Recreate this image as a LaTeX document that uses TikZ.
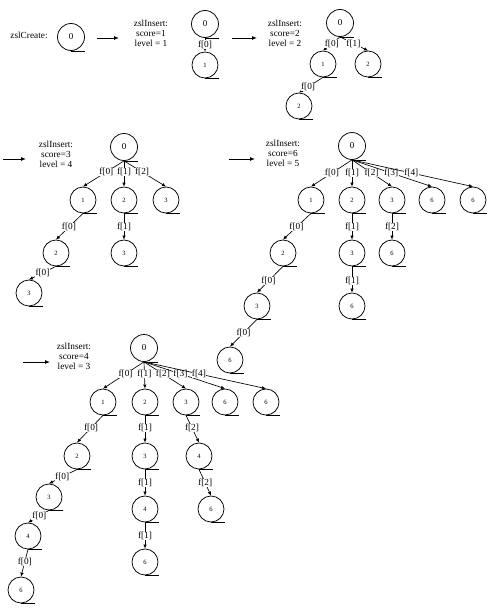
\documentclass[tikz,border=0pt]{standalone}
\usepackage{fontspec}
\setmainfont{Liberation Serif}
\usetikzlibrary{arrows.meta}
\tikzset{
  nd/.style={circle, draw, line width=0.75pt, minimum size=26pt, inner sep=0pt,
    font=\fontsize{6.5}{6.5}\selectfont,
    append after command={(\tikzlastnode.south) edge[draw, line width=0.75pt] ++(14pt,0pt)}},
  rt/.style={nd, minimum size=27pt, font=\fontsize{9}{9}\selectfont},
  lnk/.style={draw, line width=0.65pt, -{Latex[length=4pt,width=3.5pt]}},
  lbl/.style={fill=white, inner sep=0.4pt, font=\fontsize{9.3}{9.3}\selectfont},
  bigarr/.style={draw, line width=0.9pt, -{Latex[length=5pt,width=4pt]}},
  info/.style={align=center, inner sep=0pt, font=\fontsize{9.3}{10}\selectfont}
}
\begin{document}
\begin{tikzpicture}[x=1pt,y=-1pt]
\useasboundingbox (0,0) rectangle (491,613);

% ---- zslCreate ----
\node[info] (tc) at (29,35) {zslCreate:};
\node[rt] (c0) at (71,37) {0};
\coordinate (a1s) at (97,38); \coordinate (a1e) at (119,38);
\draw[bigarr] (a1s) -- (a1e);

% ---- tree 1 ----
\node[info] (t1) at (151,33) {zslInsert:\\score=1\\level = 1};
\node[rt] (p0) at (205,24) {0};
\node[nd] (p1) at (205,65) {1};
\draw[lnk] (p0.south) -- node[lbl,pos=0.5] {f[0]} (p1.north);
\coordinate (a2s) at (232,38); \coordinate (a2e) at (257,38);
\draw[bigarr] (a2s) -- (a2e);

% ---- tree 2 ----
\node[info] (t2) at (285,33) {zslInsert:\\score=2\\level = 2};
\node[rt] (q0) at (340,23) {0};
\node[nd] (q1) at (323,64) {1};
\node[nd] (q2) at (368,64) {2};
\node[nd] (q3) at (299,106) {2};
\draw[lnk] (q0.south) -- node[lbl,pos=0.48] {f[0]} (q1.north);
\draw[lnk] (q0.south) -- node[lbl,pos=0.48] {f[1]} (q2.north);
\draw[lnk] (q1.south) -- node[lbl,pos=0.62] {f[0]} (q3.north);

% ---- tree 3 ----
\coordinate (a3s) at (3,159); \coordinate (a3e) at (26,159);
\draw[bigarr] (a3s) -- (a3e);
\node[info] (t3) at (56,154) {zslInsert:\\score=3\\level = 4};
\node[rt] (r0) at (124,147) {0};
\node[nd] (r1) at (83,200) {1};
\node[nd] (r2) at (124,200) {2};
\node[nd] (r3) at (166,200) {3};
\node[nd] (r4) at (56,253) {2};
\node[nd] (r5) at (124,253) {3};
\node[nd] (r6) at (29,293) {3};
\draw[lnk] (r0.south) -- node[lbl,pos=0.43] {f[0]} (r1.north);
\draw[lnk] (r0.south) -- node[lbl,pos=0.43] {f[1]} (r2.north);
\draw[lnk] (r0.south) -- node[lbl,pos=0.43] {f[2]} (r3.north);
\draw[lnk] (r1.south) -- node[lbl,pos=0.52] {f[0]} (r4.north);
\draw[lnk] (r2.south) -- node[lbl,pos=0.52] {f[1]} (r5.north);
\draw[lnk] (r4.south) -- node[lbl,pos=0.5] {f[0]} (r6.north);

% ---- tree 4 ----
\coordinate (a4s) at (229,159); \coordinate (a4e) at (255,159);
\draw[bigarr] (a4s) -- (a4e);
\node[info] (t4) at (283,153) {zslInsert:\\score=6\\level = 5};
\node[rt] (s0) at (352,146) {0};
\node[nd] (s1) at (311,200) {1};
\node[nd] (s2) at (352,200) {2};
\node[nd] (s3) at (392,200) {3};
\node[nd] (s4) at (432,200) {6};
\node[nd] (s5) at (473,200) {6};
\node[nd] (s6) at (283,253) {2};
\node[nd] (s7) at (352,253) {3};
\node[nd] (s8) at (392,253) {6};
\node[nd] (s9) at (257,306) {3};
\node[nd] (s10) at (352,306) {6};
\node[nd] (s11) at (230,360) {6};
\draw[lnk] (s0.south) -- node[lbl,pos=0.49] {f[0]} (s1.north);
\draw[lnk] (s0.south) -- node[lbl,pos=0.49] {f[1]} (s2.north);
\draw[lnk] (s0.south) -- node[lbl,pos=0.49] {f[2]} (s3.north);
\draw[lnk] (s0.south) -- node[lbl,pos=0.49] {f[3]} (s4.north);
\draw[lnk] (s0.south) -- node[lbl,pos=0.49] {f[4]} (s5.north);
\draw[lnk] (s1.south) -- node[lbl,pos=0.52] {f[0]} (s6.north);
\draw[lnk] (s2.south) -- node[lbl,pos=0.52] {f[1]} (s7.north);
\draw[lnk] (s3.south) -- node[lbl,pos=0.52] {f[2]} (s8.north);
\draw[lnk] (s6.south) -- node[lbl,pos=0.56] {f[0]} (s9.north);
\draw[lnk] (s7.south) -- node[lbl,pos=0.56] {f[1]} (s10.north);
\draw[lnk] (s9.south) -- node[lbl,pos=0.5] {f[0]} (s11.north);

% ---- tree 5 ----
\coordinate (a5s) at (23,362); \coordinate (a5e) at (50,362);
\draw[bigarr] (a5s) -- (a5e);
\node[info] (t5) at (74,356) {zslInsert:\\score=4\\level = 3};
\node[rt] (u0) at (144,348) {0};
\node[nd] (u1) at (103,402) {1};
\node[nd] (u2) at (145,402) {2};
\node[nd] (u3) at (186,402) {3};
\node[nd] (u4) at (225,402) {6};
\node[nd] (u5) at (266,402) {6};
\node[nd] (u6) at (77,456) {2};
\node[nd] (u7) at (145,456) {3};
\node[nd] (u8) at (199,456) {4};
\node[nd] (u9) at (49,497) {3};
\node[nd] (u10) at (145,509) {4};
\node[nd] (u11) at (211,509) {6};
\node[nd] (u12) at (28,536) {4};
\node[nd] (u13) at (145,562) {6};
\node[nd] (u14) at (21,590) {6};
\draw[lnk] (u0.south) -- node[lbl,pos=0.45] {f[0]} (u1.north);
\draw[lnk] (u0.south) -- node[lbl,pos=0.45] {f[1]} (u2.north);
\draw[lnk] (u0.south) -- node[lbl,pos=0.45] {f[2]} (u3.north);
\draw[lnk] (u0.south) -- node[lbl,pos=0.45] {f[3]} (u4.north);
\draw[lnk] (u0.south) -- node[lbl,pos=0.45] {f[4]} (u5.north);
\draw[lnk] (u1.south) -- node[lbl,pos=0.46] {f[0]} (u6.north);
\draw[lnk] (u2.south) -- node[lbl,pos=0.46] {f[1]} (u7.north);
\draw[lnk] (u3.south) -- node[lbl,pos=0.46] {f[2]} (u8.north);
\draw[lnk] (u6.south) -- node[lbl,pos=0.53] {f[0]} (u9.north);
\draw[lnk] (u7.south) -- node[lbl,pos=0.52] {f[1]} (u10.north);
\draw[lnk] (u8.south) -- node[lbl,pos=0.52] {f[2]} (u11.north);
\draw[lnk] (u9.south) -- node[lbl,pos=0.46] {f[0]} (u12.north);
\draw[lnk] (u10.south) -- node[lbl,pos=0.52] {f[1]} (u13.north);
\draw[lnk] (u12.south) -- node[lbl,pos=0.46] {f[0]} (u14.north);
\end{tikzpicture}
\end{document}
